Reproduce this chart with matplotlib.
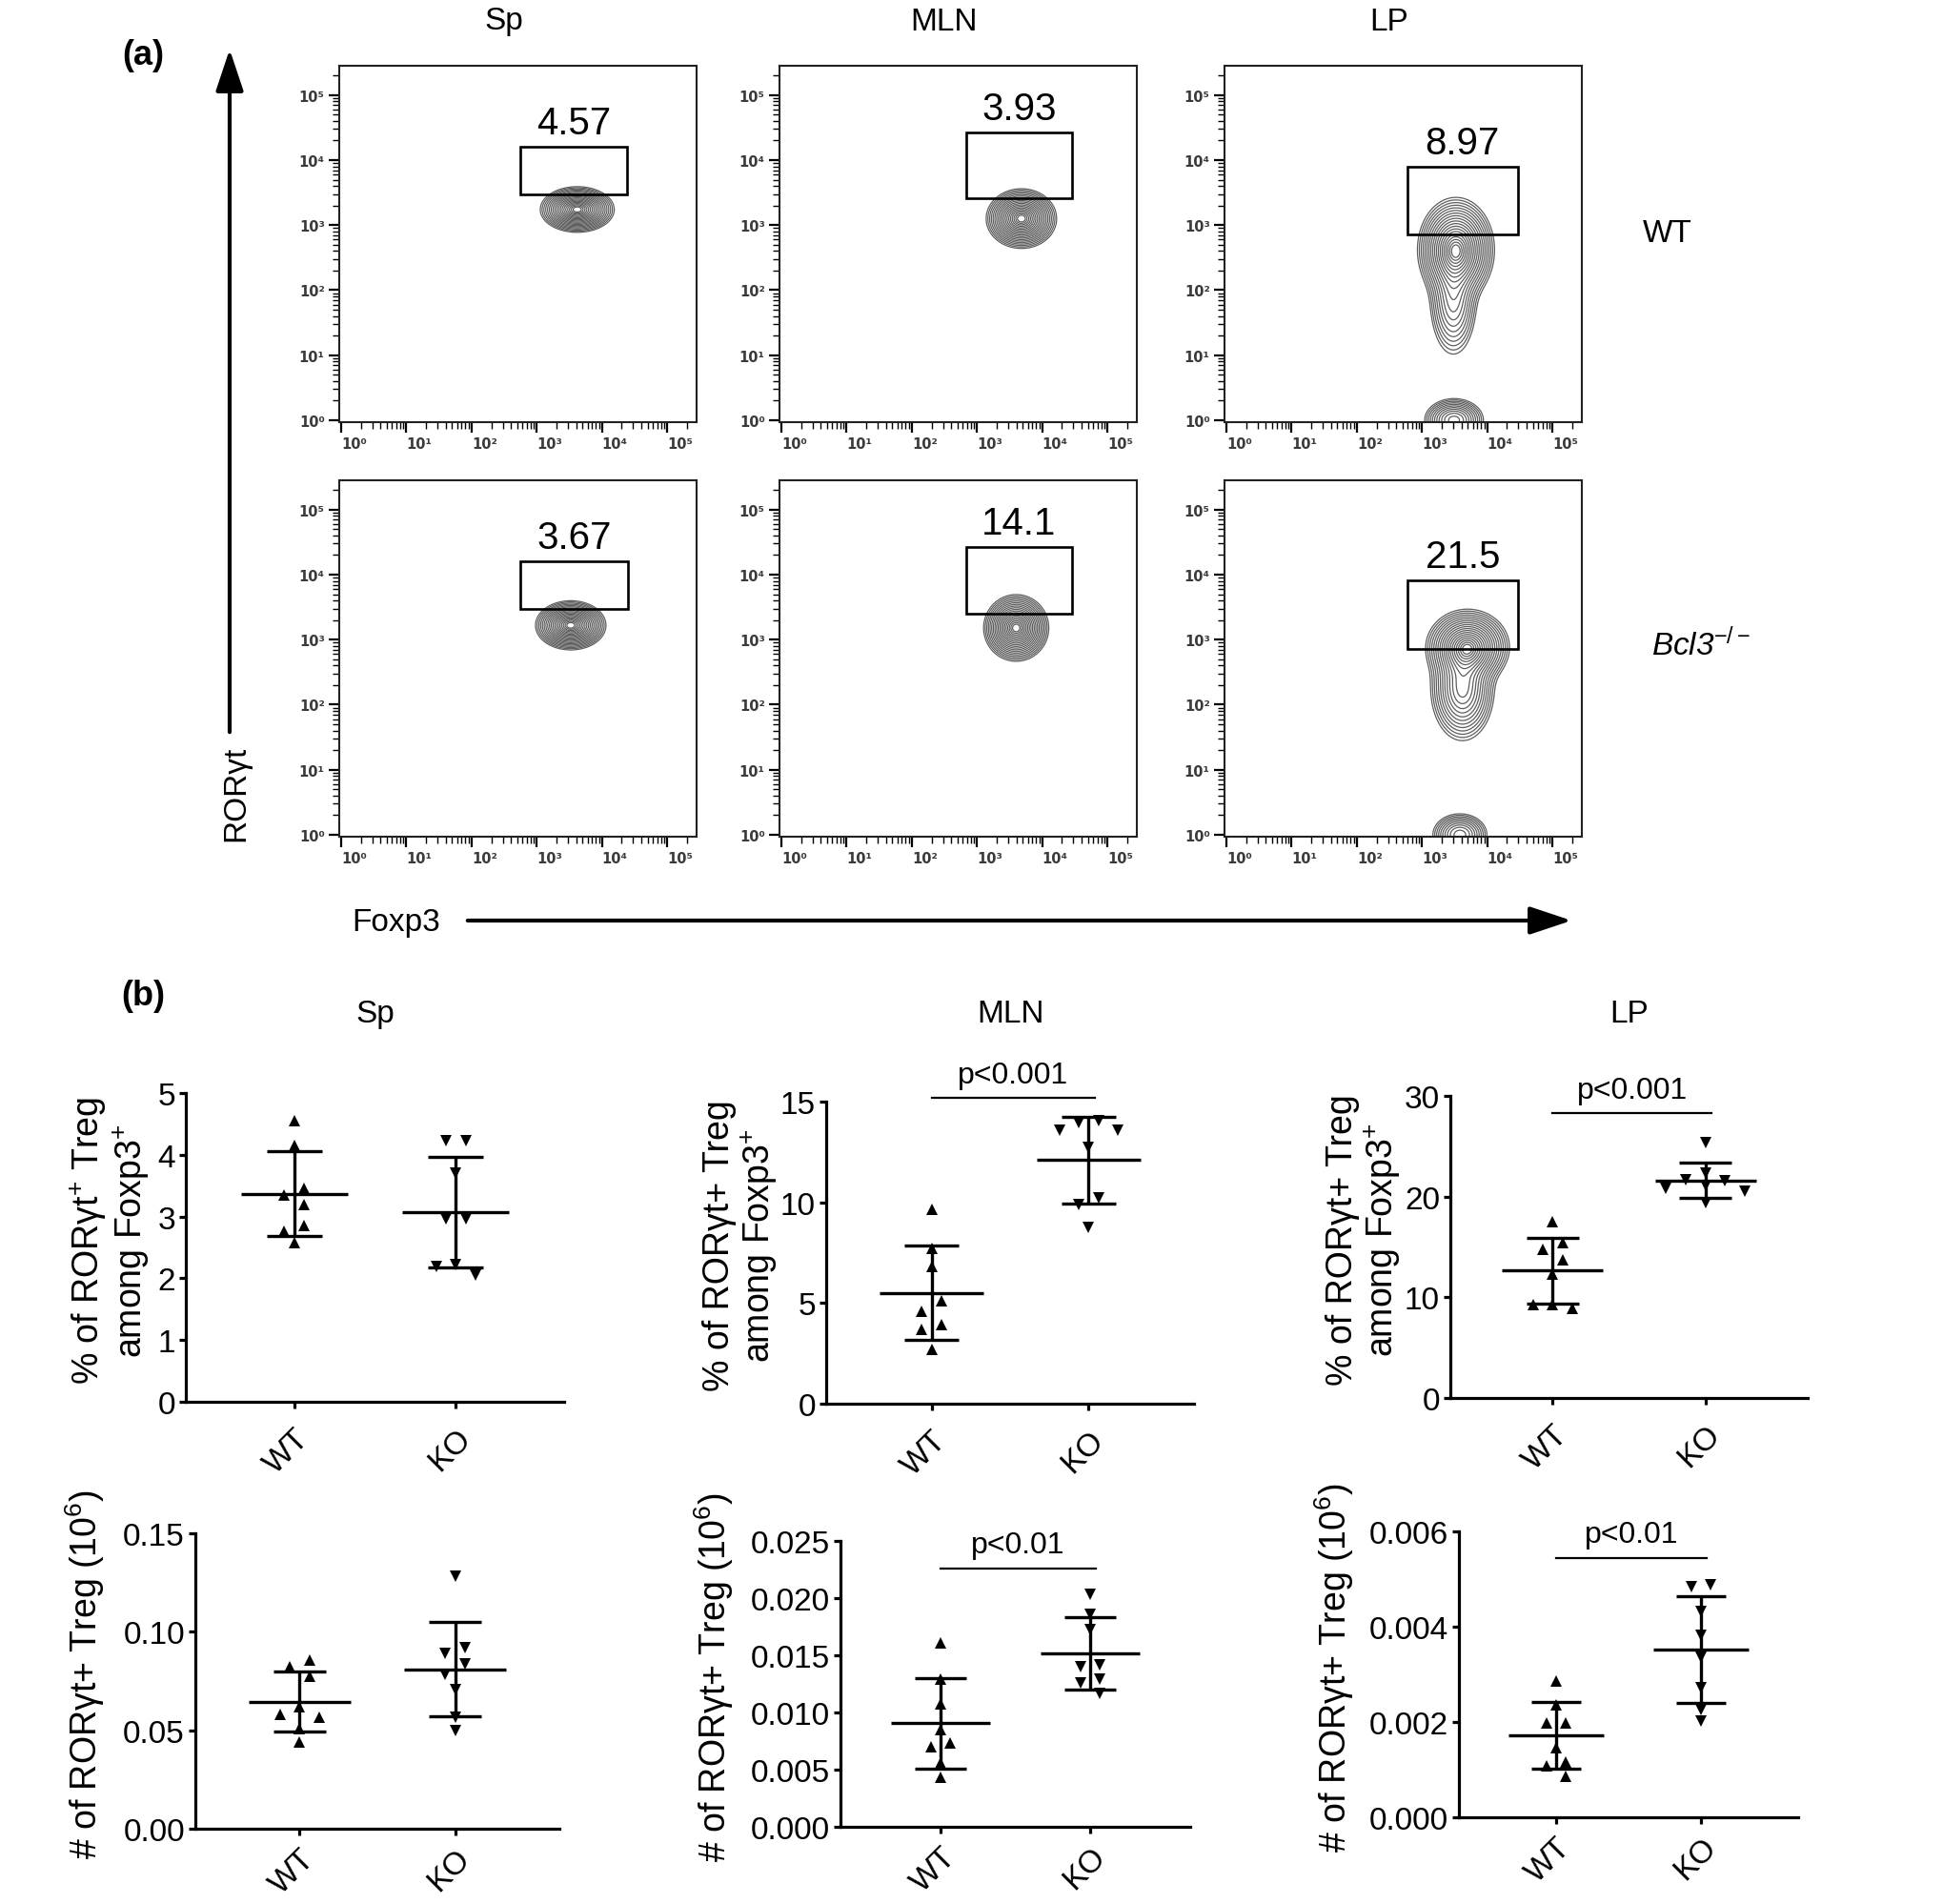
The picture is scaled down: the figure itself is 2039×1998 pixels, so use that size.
import numpy as np
import matplotlib
matplotlib.use("Agg")
import matplotlib.pyplot as plt
from matplotlib.patches import Rectangle, FancyArrowPatch

plt.rcParams["font.family"] = ["Liberation Sans", "DejaVu Sans"]
plt.rcParams["mathtext.fontset"] = "custom"
plt.rcParams["mathtext.rm"] = "Liberation Sans"
plt.rcParams["mathtext.it"] = "Liberation Sans:italic"
plt.rcParams["mathtext.bf"] = "Liberation Sans:bold"

# ---------------- data ----------------
tissues = ["Sp", "MLN", "LP"]
groups = ["WT", "KO"]
decade_labels = ["10\u2070", "10\u00b9", "10\u00b2", "10\u00b3", "10\u2074", "10\u2075"]

# (a) gates: percentages and gate bounds (log10 units), rows WT / Bcl3-/-
gate_pct = [["4.57", "3.93", "8.97"], ["3.67", "14.1", "21.5"]]
gate_x0 = [[2.74, 2.84, 2.77], [2.75, 2.83, 2.78]]
gate_x1 = [[4.39, 4.46, 4.47], [4.40, 4.46, 4.47]]
gate_y0 = [[3.47, 3.41, 2.86], [3.47, 3.40, 2.86]]
gate_y1 = [[4.20, 4.43, 3.90], [4.20, 4.42, 3.91]]

# (a) cell populations: (center x, center y, spread x, spread y, weight) in log10 units
pop_sp_wt = [(3.62, 3.24, 0.21, 0.13, 1.0)]
pop_mln_wt = [(3.68, 3.10, 0.20, 0.17, 1.0)]
pop_lp_wt = [(3.52, 2.62, 0.22, 0.30, 1.0), (3.48, 1.85, 0.16, 0.38, 0.30),
             (3.49, 0.00, 0.19, 0.14, 0.45)]
pop_sp_ko = [(3.52, 3.22, 0.20, 0.14, 1.0)]
pop_mln_ko = [(3.60, 3.18, 0.185, 0.19, 1.0)]
pop_lp_ko = [(3.70, 2.88, 0.24, 0.22, 1.0), (3.62, 2.25, 0.20, 0.33, 0.55),
             (3.58, 0.00, 0.18, 0.14, 0.40)]
populations = [[pop_sp_wt, pop_mln_wt, pop_lp_wt], [pop_sp_ko, pop_mln_ko, pop_lp_ko]]

# (b) % of RORgt+ Treg among Foxp3+
pct_sp_wt = [4.56, 4.15, 3.45, 3.35, 3.20, 2.86, 2.77, 2.58]
pct_sp_ko = [4.23, 4.23, 3.71, 2.96, 2.96, 2.22, 2.19, 2.06]
pct_mln_wt = [9.65, 7.69, 6.82, 5.09, 4.57, 3.91, 3.67, 2.69]
pct_mln_ko = [14.06, 13.98, 13.60, 13.60, 12.72, 10.20, 9.89, 8.74]
pct_lp_wt = [17.52, 15.41, 14.78, 13.74, 12.35, 9.25, 9.25, 8.87]
pct_lp_ko = [25.35, 22.36, 21.63, 21.60, 21.09, 20.78, 20.56, 19.42]
# (b) # of RORgt+ Treg (10^6)
num_sp_wt = [0.0855, 0.0823, 0.0774, 0.0621, 0.0581, 0.0565, 0.0508, 0.0439]
num_sp_ko = [0.1282, 0.0919, 0.0890, 0.0835, 0.0782, 0.0706, 0.0568, 0.0500]
num_mln_wt = [0.0161, 0.0129, 0.01075, 0.00847, 0.0073, 0.00703, 0.00556, 0.0043]
num_mln_ko = [0.02036, 0.01861, 0.01722, 0.01414, 0.01397, 0.01292, 0.01258, 0.01167]
num_lp_wt = [0.002867, 0.002353, 0.00198, 0.00198, 0.001467, 0.001153, 0.001087, 0.000867]
num_lp_ko = [0.004887, 0.004833, 0.004313, 0.00382, 0.003367, 0.002713, 0.002267, 0.00202]

pct_ticks = [[0, 1, 2, 3, 4, 5], [0, 5, 10, 15], [0, 10, 20, 30]]
pct_ticklabels = [["0", "1", "2", "3", "4", "5"], ["0", "5", "10", "15"], ["0", "10", "20", "30"]]
num_ticks = [[0, 0.05, 0.10, 0.15], [0, 0.005, 0.010, 0.015, 0.020, 0.025], [0, 0.002, 0.004, 0.006]]
num_ticklabels = [["0.00", "0.05", "0.10", "0.15"],
                  ["0.000", "0.005", "0.010", "0.015", "0.020", "0.025"],
                  ["0.000", "0.002", "0.004", "0.006"]]
pct_labels = ["% of ROR\u03b3t$^{+}$ Treg\namong Foxp3$^{+}$",
              "% of ROR\u03b3t+ Treg\namong Foxp3$^{+}$",
              "% of ROR\u03b3t+ Treg\namong Foxp3$^{+}$"]
num_label = "# of ROR\u03b3t+ Treg (10$^{6}$)"
pct_pvals = [None, "p<0.001", "p<0.001"]
num_pvals = [None, "p<0.01", "p<0.01"]
pct_pline = [None, 15.17, 28.26]
num_pline = [None, 0.02258, 0.00545]

# ---------------- layout ----------------
W, H, DPI = 2040, 1999, 100
fig = plt.figure(figsize=(W / DPI, H / DPI), dpi=DPI)


def px_axes(left, top, right, bottom):
    return fig.add_axes([left / W, 1 - bottom / H, (right - left) / W, (bottom - top) / H])


def fx(x):
    return x / W


def fy(y):
    return 1 - y / H


flow_lefts = [356, 818, 1285]
flow_tops = [70, 505]
flow_w, flow_h = 375, 374
LO, HI = -0.03, 5.45

grid = np.linspace(LO, HI, 450)
GX, GY = np.meshgrid(grid, grid)
ring_r = np.linspace(0.3, 2.7, 19)

for r in range(2):
    for c in range(3):
        l, t = flow_lefts[c], flow_tops[r]
        ax = px_axes(l, t, l + flow_w, t + flow_h)
        ax.set_xlim(LO, HI)
        ax.set_ylim(LO, HI)
        dens = np.zeros_like(GX)
        for cx, cy, sx, sy, w in populations[r][c]:
            dens += w * np.exp(-0.5 * ((GX - cx) / sx) ** 2 - 0.5 * ((GY - cy) / sy) ** 2)
        levels = np.sort(dens.max() * np.exp(-0.5 * ring_r ** 2))
        ax.contour(GX, GY, dens, levels=levels, colors="#5e5e5e", linewidths=0.9)
        x0, x1 = gate_x0[r][c], gate_x1[r][c]
        y0, y1 = gate_y0[r][c], gate_y1[r][c]
        ax.add_patch(Rectangle((x0, y0), x1 - x0, y1 - y0, fill=False, lw=1.9, ec="black", zorder=4))
        ax.annotate(gate_pct[r][c], xy=((x0 + x1) / 2, y1), xytext=(0, 10),
                    textcoords="offset points", ha="center", va="baseline", fontsize=29)
        ax.set_xticks(range(6))
        ax.set_yticks(range(6))
        ax.set_xticklabels(decade_labels, family="DejaVu Sans", fontweight="bold",
                           fontsize=10.5, color="#3a3a3a", ha="left")
        ax.set_yticklabels(decade_labels, family="DejaVu Sans", fontweight="bold",
                           fontsize=10.5, color="#3a3a3a")
        minor = [k + np.log10(m) for k in range(6) for m in range(2, 10) if k + np.log10(m) < HI]
        ax.set_xticks(minor, minor=True)
        ax.set_yticks(minor, minor=True)
        ax.tick_params(which="major", direction="out", length=8, width=1.6, pad=3)
        ax.tick_params(which="minor", direction="out", length=5, width=1.0)
        for s in ax.spines.values():
            s.set_linewidth(1.5)
            s.set_color("#222222")

# headers and row labels for (a)
for c in range(3):
    fig.text(fx(flow_lefts[c] + flow_w / 2 - 15), fy(23), tissues[c], ha="center", va="center", fontsize=24)
fig.text(fx(1750), fy(245), "WT", ha="center", va="center", fontsize=24)
fig.text(fx(1785), fy(677), "Bcl3$^{-/-}$", ha="center", va="center", fontsize=24, style="italic")
fig.text(fx(150), fy(58), "(a)", ha="center", va="center", fontsize=26, fontweight="bold")
fig.text(fx(150), fy(1046), "(b)", ha="center", va="center", fontsize=26, fontweight="bold")
fig.text(fx(248), fy(833), "ROR\u03b3t", ha="center", va="center", fontsize=24, rotation=90)
fig.text(fx(416), fy(969), "Foxp3", ha="center", va="center", fontsize=24)
arrow_style = "-|>,head_length=0.45,head_width=0.15"
fig.add_artist(FancyArrowPatch((fx(241), fy(772)), (fx(241), fy(50)), transform=fig.transFigure,
                               arrowstyle=arrow_style, mutation_scale=60, lw=3.0, color="black"))
fig.add_artist(FancyArrowPatch((fx(488), fy(967)), (fx(1652), fy(967)), transform=fig.transFigure,
                               arrowstyle=arrow_style, mutation_scale=60, lw=3.0, color="black"))


# ---------------- (b) scatter panels ----------------
def swarm_offsets(ax, values, unit_px=10.3, h_px=12.0):
    bbox = ax.get_window_extent()
    ylo, yhi = ax.get_ylim()
    xlo, xhi = ax.get_xlim()
    ppy = bbox.height / (yhi - ylo)
    ppx = bbox.width / (xhi - xlo)
    vals = np.asarray(values, float)
    ypx = vals * ppy
    order = list(np.argsort(-vals, kind="stable"))
    clusters, cur = [], [order[0]]
    for a, b in zip(order[:-1], order[1:]):
        if ypx[a] - ypx[b] < h_px:
            cur.append(b)
        else:
            clusters.append(cur)
            cur = [b]
    clusters.append(cur)
    off = np.zeros(len(vals))
    cands = [1, -1, 3, -3, 5, -5, 7, -7, 9, -9]
    for cl in clusters:
        if len(cl) == 1:
            continue
        placed = []
        for i in cl:
            for cnd in cands:
                if all(not (cnd == oj and abs(ypx[i] - ypx[j]) < h_px) for j, oj in placed):
                    off[i] = cnd
                    placed.append((i, cnd))
                    break
        vals_cl = [o for _, o in placed]
        shift = (max(vals_cl) + min(vals_cl)) / 2.0
        for i, _ in placed:
            off[i] -= shift
    return off * unit_px / ppx


def draw_scatter(ax, wt, ko, yticks, yticklabels, ylabel, label_dx_px, pval, pline, xpad):
    ax.set_xlim(0.33, 2.67)
    ax.set_ylim(0, yticks[-1])
    for s in ["top", "right"]:
        ax.spines[s].set_visible(False)
    for s in ["left", "bottom"]:
        ax.spines[s].set_linewidth(2.3)
    ax.set_xticks([1, 2])
    ax.set_xticklabels(groups, fontsize=24, rotation=45, ha="right", va="top",
                       rotation_mode="anchor")
    ax.set_yticks(yticks)
    ax.set_yticklabels(yticklabels, fontsize=24)
    ax.tick_params(axis="both", direction="out", length=5, width=2.3)
    ax.tick_params(axis="x", pad=xpad)
    ax.tick_params(axis="y", pad=3)
    bbox = ax.get_window_extent()
    for xpos, vals, mk in [(1, wt, "^"), (2, ko, "v")]:
        vals = np.asarray(vals, float)
        offs = swarm_offsets(ax, vals)
        ax.plot(xpos + offs, vals, ls="none", marker=mk, ms=8, color="black", mew=0,
                clip_on=False, zorder=3)
        m = vals.mean()
        sd = vals.std(ddof=1)
        ax.hlines(m, xpos - 0.33, xpos + 0.33, color="black", lw=2.4)
        ax.hlines([m - sd, m + sd], xpos - 0.17, xpos + 0.17, color="black", lw=2.4)
        ax.vlines(xpos, m - sd, m + sd, color="black", lw=2.4)
    ax.set_ylabel(ylabel, fontsize=27, linespacing=1.1)
    ax.yaxis.set_label_coords(label_dx_px / bbox.width, 0.5 + 8 / bbox.height)
    if pval:
        ax.plot([1.0, 2.04], [pline, pline], color="black", lw=1.6, clip_on=False)
        ax.annotate(pval, xy=(1.52, pline), xytext=(0, 12), textcoords="offset points",
                    ha="center", va="baseline", fontsize=23, annotation_clip=False)


pct_boxes = [(195, 1148, 592, 1472), (867, 1157, 1253, 1474), (1522, 1151, 1897, 1468)]
num_boxes = [(205, 1610, 587, 1920), (882, 1618, 1249, 1918), (1531, 1608, 1887, 1908)]
pct_label_dx = [-36, -49, -50]
num_label_dx = [-93, -110, -108]
pct_data = [(pct_sp_wt, pct_sp_ko), (pct_mln_wt, pct_mln_ko), (pct_lp_wt, pct_lp_ko)]
num_data = [(num_sp_wt, num_sp_ko), (num_mln_wt, num_mln_ko), (num_lp_wt, num_lp_ko)]

for c in range(3):
    ax = px_axes(*pct_boxes[c])
    draw_scatter(ax, pct_data[c][0], pct_data[c][1], pct_ticks[c], pct_ticklabels[c],
                 pct_labels[c], pct_label_dx[c], pct_pvals[c], pct_pline[c], 11)
    l, t, rr, b = pct_boxes[c]
    fig.text(fx((l + rr) / 2), fy(1065), tissues[c], ha="center", va="center", fontsize=24)
    ax = px_axes(*num_boxes[c])
    draw_scatter(ax, num_data[c][0], num_data[c][1], num_ticks[c], num_ticklabels[c],
                 num_label, num_label_dx[c], num_pvals[c], num_pline[c], 6)

fig.savefig("out.png", dpi=DPI)
